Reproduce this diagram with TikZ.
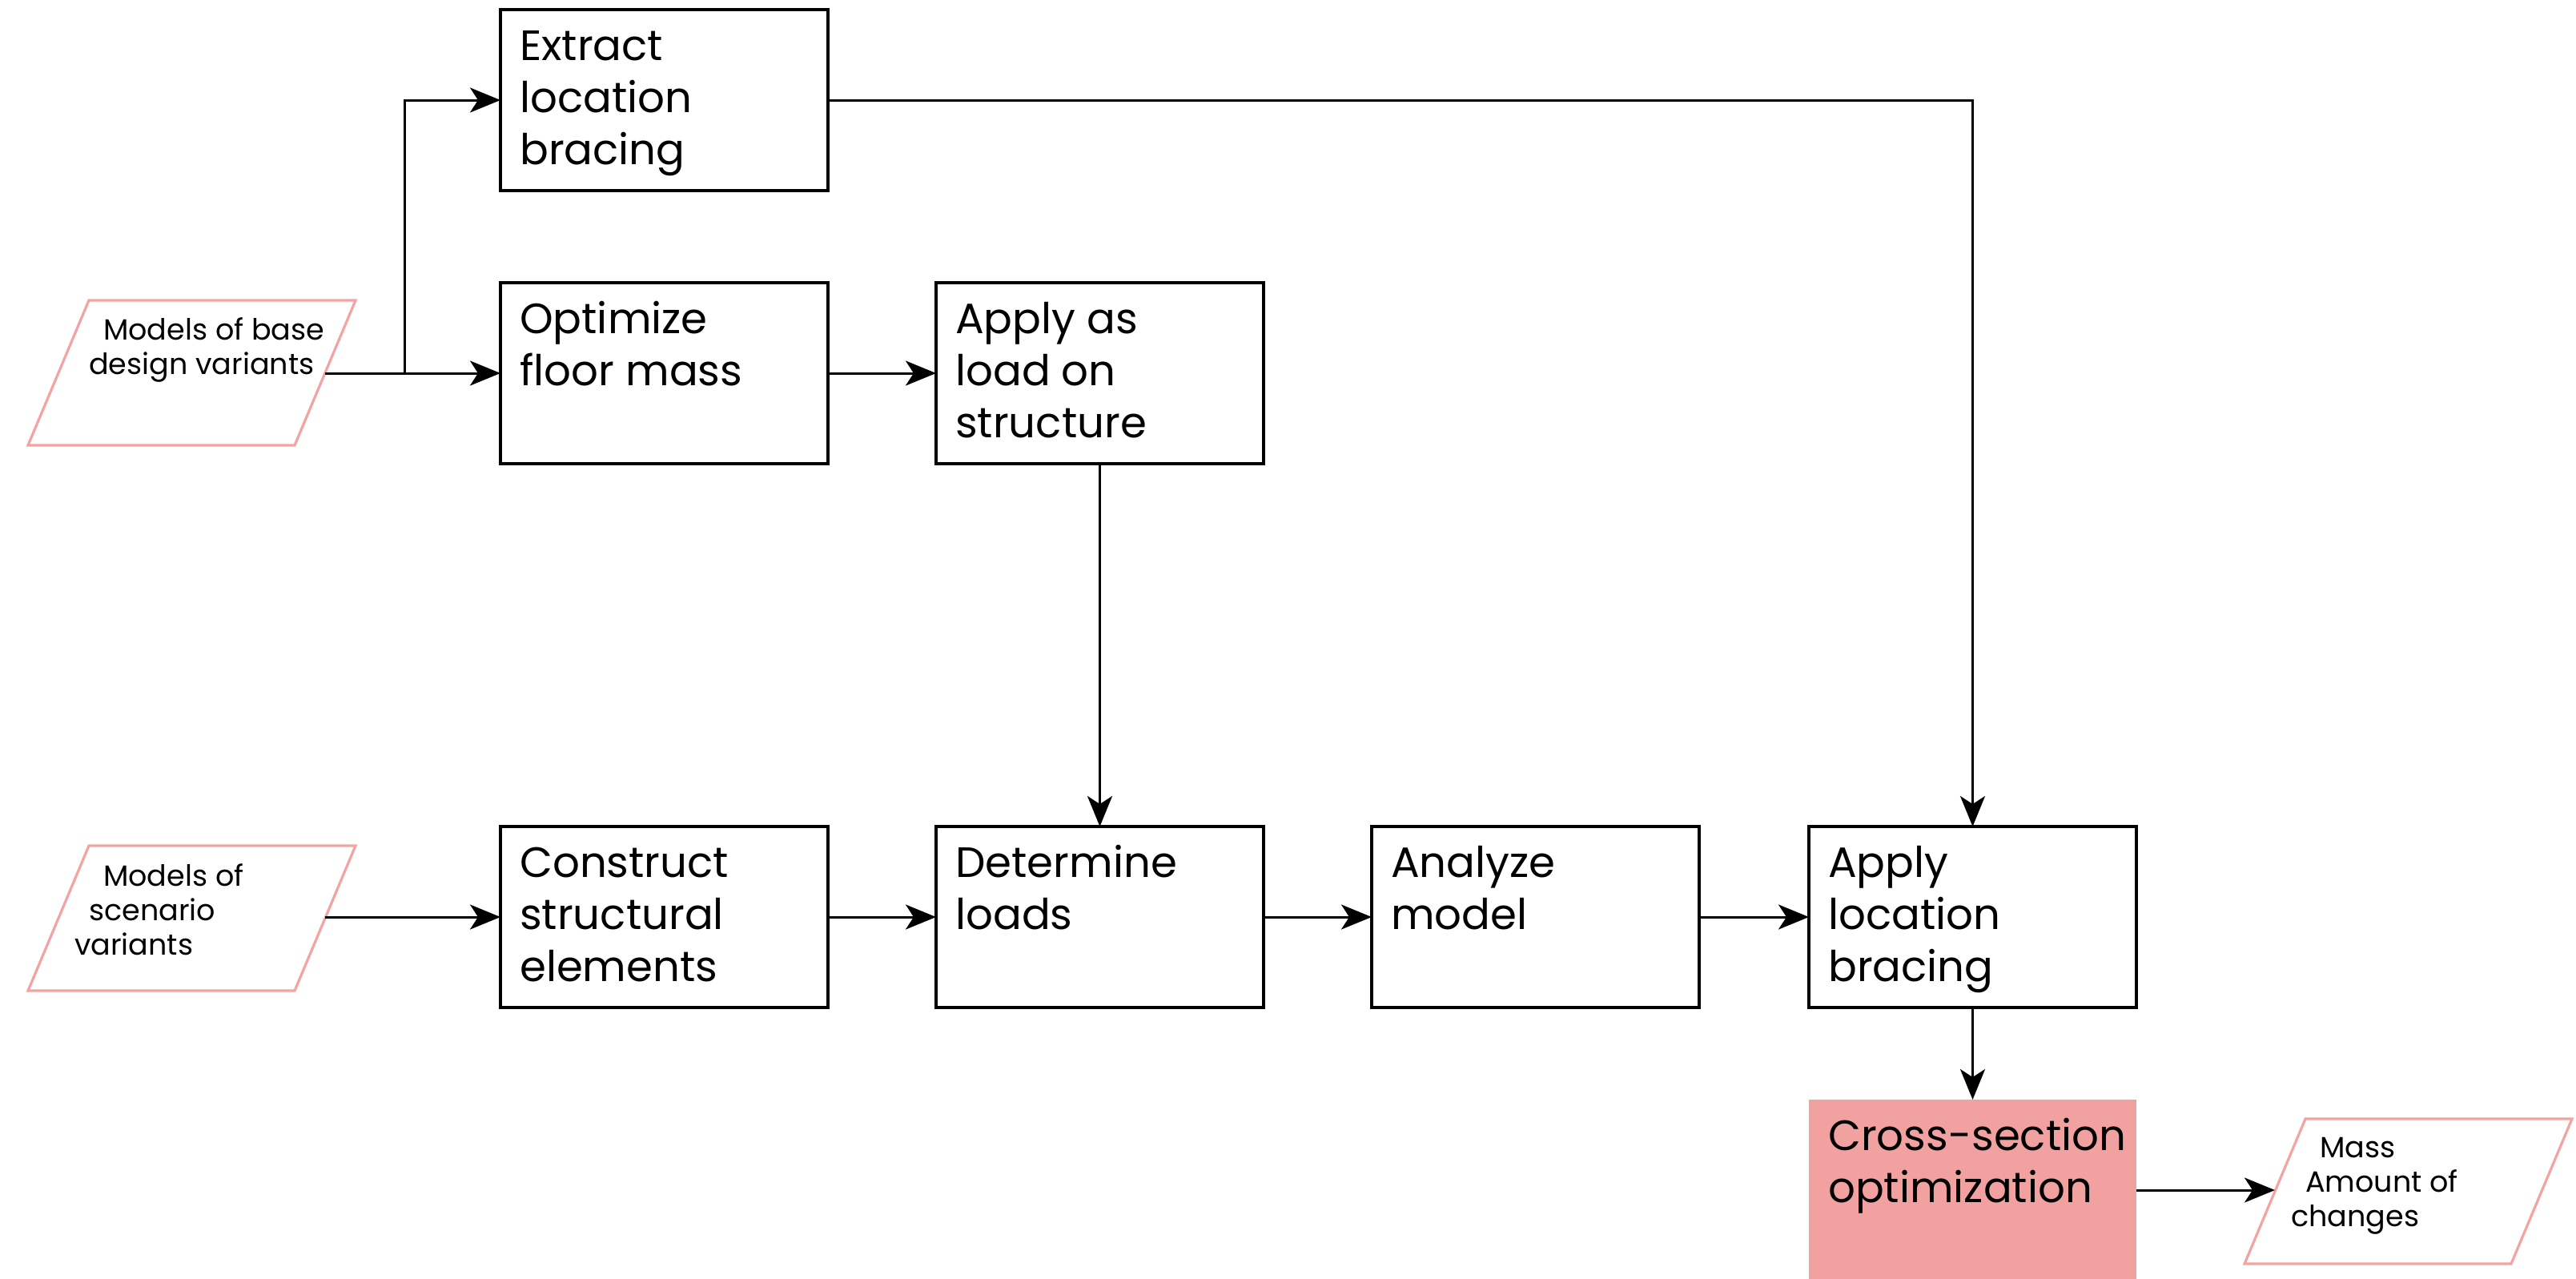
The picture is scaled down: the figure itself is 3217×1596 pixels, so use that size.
\documentclass[tikz,border=0pt]{standalone}
\usepackage{fontspec}
\setmainfont{Poppins}
\usetikzlibrary{arrows.meta}
\definecolor{pinkfill}{HTML}{F2A1A1}
\definecolor{pinkline}{HTML}{F4A3A3}
\begin{document}
\begin{tikzpicture}[x=1pt,y=-1pt,
  stepbox/.style={draw, line width=3.2pt, minimum width=409pt, minimum height=226pt,
    inner sep=0pt, outer sep=0pt, anchor=north west},
  hotbox/.style={stepbox, draw=none, fill=pinkfill},
  boxtext/.style={anchor=north west, align=left, inner sep=0pt,
    font=\fontsize{53}{65}\selectfont},
  ioshape/.style={draw=pinkline, line width=3.2pt, line join=miter},
  iotext/.style={anchor=north west, align=left, inner sep=0pt,
    font=\fontsize{36.5}{43}\selectfont},
  conn/.style={line width=3pt, -{Stealth[length=38pt,width=31pt,inset=10pt]}}]
\useasboundingbox (0,0) rectangle (3217,1596);

% data parallelograms: bottom-left corner, slant 76, top width 333, height 181
\draw[ioshape] (35,556) -- (111,375) -- (444,375) -- (368,556) -- cycle;
\draw[ioshape] (35,1237) -- (111,1056) -- (444,1056) -- (368,1237) -- cycle;
\draw[ioshape] (2803,1578) -- (2879,1397) -- (3212,1397) -- (3136,1578) -- cycle;
\coordinate (base-out) at (406,466);
\coordinate (scen-out) at (406,1145);
\coordinate (res-in) at (2841,1486);

% first baseline sits one strut height (0.7 x 43pt) below the anchor
\node[iotext] (base-t) at (111,394) {\strut\hspace*{18pt}Models of base\\design variants};
\node[iotext] (scen-t) at (93,1076) {\strut\hspace*{36pt}Models of\\\hspace*{18pt}scenario\\variants};
\node[iotext] (res-t) at (2861,1415) {\strut\hspace*{36pt}Mass\\\hspace*{18pt}Amount of\\changes};

% process steps
\node[stepbox] (extract) at (625,12) {};
\node[stepbox] (optimize) at (625,353) {};
\node[stepbox] (applyload) at (1169,353) {};
\node[stepbox] (construct) at (625,1032) {};
\node[stepbox] (determine) at (1169,1032) {};
\node[stepbox] (analyze) at (1713,1032) {};
\node[stepbox] (applybr) at (2259,1032) {};
\node[hotbox] (cross) at (2259,1373) {};

% first baseline sits one strut height (0.7 x 65pt) below the anchor
\node[boxtext] at ([shift={(24,17.5)}]extract.north west) {\strut Extract\\location\\bracing};
\node[boxtext] at ([shift={(24,17.5)}]optimize.north west) {\strut Optimize\\floor mass};
\node[boxtext] at ([shift={(24,17.5)}]applyload.north west) {\strut Apply as\\load on\\structure};
\node[boxtext] at ([shift={(24,17.5)}]construct.north west) {\strut Construct\\structural\\elements};
\node[boxtext] at ([shift={(24,17.5)}]determine.north west) {\strut Determine\\loads};
\node[boxtext] at ([shift={(24,17.5)}]analyze.north west) {\strut Analyze\\model};
\node[boxtext] at ([shift={(24,17.5)}]applybr.north west) {\strut Apply\\location\\bracing};
\node[boxtext] at ([shift={(24,17.5)}]cross.north west) {\strut Cross-section\\optimization};

% connectors
\coordinate (split) at (505,466);
\draw[conn] (base-out) -- (optimize.west);
\draw[conn] (split) |- (extract.west);
\draw[conn] (extract.east) -| (applybr.north);
\draw[conn] (optimize) -- (applyload);
\draw[conn] (applyload) -- (determine);
\draw[conn] (scen-out) -- (construct.west);
\draw[conn] (construct) -- (determine);
\draw[conn] (determine) -- (analyze);
\draw[conn] (analyze) -- (applybr);
\draw[conn] (applybr) -- (cross);
\draw[conn] (cross.east) -- (res-in);
\end{tikzpicture}
\end{document}
